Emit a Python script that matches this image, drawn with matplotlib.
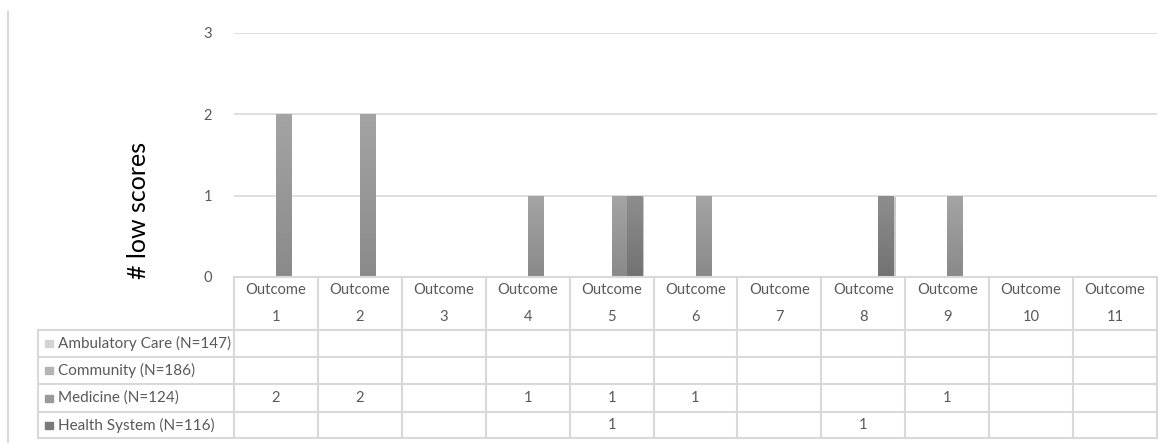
import matplotlib.pyplot as plt
import numpy as np
from matplotlib.colors import LinearSegmentedColormap
from matplotlib import patheffects

plt.rcParams['font.family'] = ['Lato', 'DejaVu Sans']

# low scores per outcome for each site
outcomes = ['1', '2', '3', '4', '5', '6', '7', '8', '9', '10', '11']
series_names = ['Ambulatory Care (N=147)', 'Community (N=186)',
                'Medicine (N=124)', 'Health System (N=116)']
ambulatory = [0, 0, 0, 0, 0, 0, 0, 0, 0, 0, 0]
community = [0, 0, 0, 0, 0, 0, 0, 0, 0, 0, 0]
medicine = [2, 2, 0, 1, 1, 1, 0, 0, 1, 0, 0]
health_system = [0, 0, 0, 0, 1, 0, 0, 1, 0, 0, 0]
series_values = [ambulatory, community, medicine, health_system]

swatch_colors = ['#d4d4d4', '#b4b4b4', '#9a9a9a', '#7a7a7a']
grad_top = ['#dadada', '#bdbdbd', '#a4a4a4', '#8e8e8e']
grad_bottom = ['#c2c2c2', '#a2a2a2', '#8a8a8a', '#727272']
txt_color = '#595959'
fs = 10.6

W, H = 1164, 443
fig = plt.figure(figsize=(W / 100, H / 100), dpi=100)

# pixel layout
ax_l, ax_r, ax_t, ax_b = 234, 1157, 33, 277
tab_b = 438
lab_l = 38

ax = fig.add_axes([ax_l / W, 1 - ax_b / H, (ax_r - ax_l) / W, (ax_b - ax_t) / H])
x = np.arange(len(outcomes))
bar_w = 0.18
offsets = (np.arange(4) - 1.5) * bar_w

for i, vals in enumerate(series_values):
    bars = ax.bar(x + offsets[i], vals, width=bar_w, color=swatch_colors[i], zorder=3)
    cmap = LinearSegmentedColormap.from_list('g%d' % i, [grad_bottom[i], grad_top[i]])
    for b, v in zip(bars, vals):
        if v <= 0:
            continue
        if i == 3:
            b.set_path_effects([patheffects.SimplePatchShadow(offset=(1.5, -1), alpha=0.25),
                                patheffects.Normal()])
        grad = np.linspace(0, 1, 100).reshape(-1, 1)
        im = ax.imshow(grad, cmap=cmap, aspect='auto', origin='lower', zorder=4,
                       extent=[b.get_x(), b.get_x() + b.get_width(), 0, b.get_height()])
        im.set_clip_path(b)

ax.set_xlim(-0.5, len(outcomes) - 0.5)
ax.set_ylim(0, 3)
ax.set_yticks([0, 1, 2, 3])
ax.yaxis.grid(True, color='#d9d9d9', linewidth=1.2, zorder=0)
ax.set_axisbelow(True)
for s in ['left', 'right', 'top', 'bottom']:
    ax.spines[s].set_visible(False)
ax.tick_params(axis='y', length=0, pad=16, labelsize=fs, labelcolor=txt_color)
ax.set_xticks([])

# data table under the plot
tax = fig.add_axes([ax_l / W, 1 - tab_b / H, (ax_r - ax_l) / W, (tab_b - ax_b) / H])
tax.set_xlim(-0.5, len(outcomes) - 0.5)
tax.set_ylim(tab_b - ax_b, 0)
tax.axis('off')
line_kw = dict(color='#d9d9d9', linewidth=1.5, clip_on=False)
px = (ax_r - ax_l) / len(outcomes)
lab_x0 = -0.5 - (ax_l - lab_l) / px
row_edges = [0, 53, 80, 107, 135, 161]

tax.plot([-0.5, len(outcomes) - 0.5], [0, 0], **line_kw)
for y in row_edges[1:]:
    tax.plot([lab_x0, len(outcomes) - 0.5], [y, y], **line_kw)
for k in range(len(outcomes) + 1):
    tax.plot([k - 0.5, k - 0.5], [0, row_edges[-1]], **line_kw)
tax.plot([lab_x0, lab_x0], [row_edges[1], row_edges[-1]], **line_kw)

for k, name in enumerate(outcomes):
    tax.text(k, 13, 'Outcome', ha='center', va='center', fontsize=fs, color=txt_color)
    tax.text(k, 40, name, ha='center', va='center', fontsize=fs, color=txt_color)

for i, (name, vals) in enumerate(zip(series_names, series_values)):
    yc = (row_edges[i + 1] + row_edges[i + 2]) / 2
    tax.add_patch(plt.Rectangle((lab_x0 + 7 / px, yc - 3.5), 8 / px, 7,
                                color=swatch_colors[i], clip_on=False))
    tax.text(lab_x0 + 20 / px, yc, name, ha='left', va='center', fontsize=fs + 0.4,
             color=txt_color, clip_on=False)
    for k, v in enumerate(vals):
        if v:
            tax.text(k, yc, str(v), ha='center', va='center', fontsize=fs, color=txt_color)

fig.text(139 / W, 1 - 210 / H, '# low scores', rotation=90, ha='center', va='center',
         fontsize=18, color='black')

# frame line on the left
fig.add_artist(plt.Line2D([8 / W, 8 / W], [0, 1 - 12 / H], color='#d9d9d9',
                          linewidth=1.5, transform=fig.transFigure))

fig.savefig('out.png', dpi=100, facecolor='white')
